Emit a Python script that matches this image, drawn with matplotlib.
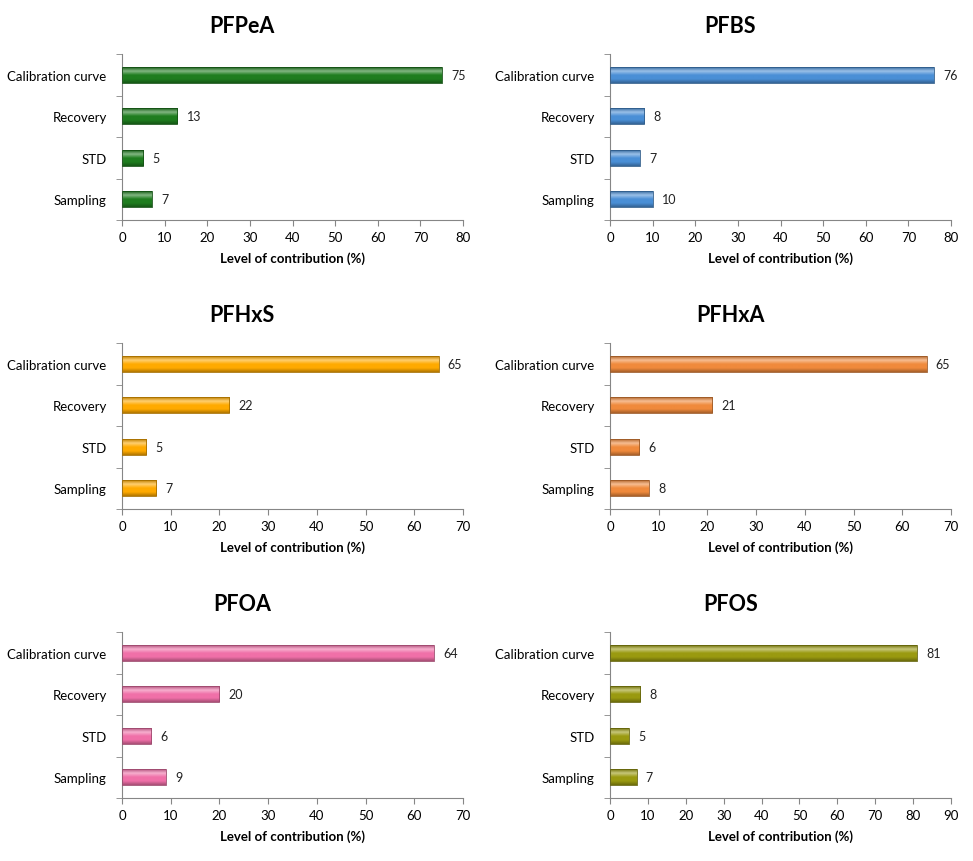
import numpy as np
import matplotlib.pyplot as plt
from matplotlib.colors import LinearSegmentedColormap, to_rgb

plt.rcParams['font.family'] = ['Lato', 'DejaVu Sans']

categories = ['Calibration curve', 'Recovery', 'STD', 'Sampling']
titles = ['PFPeA', 'PFBS', 'PFHxS', 'PFHxA', 'PFOA', 'PFOS']
values = [
    [75, 13, 5, 7],
    [76, 8, 7, 10],
    [65, 22, 5, 7],
    [65, 21, 6, 8],
    [64, 20, 6, 9],
    [81, 8, 5, 7],
]
xmax = [80, 80, 70, 70, 70, 90]
colors = ['#1f7d1f', '#4a8fd6', '#ffaa00', '#f08a3c', '#f070a8', '#9a9a10']

W, H = 973, 862
fig = plt.figure(figsize=(W / 100, H / 100), dpi=100)

lefts = [122, 610]
bottoms = [221, 510, 799]
aw, ah = 341, 166


def shade(c, f):
    r = np.array(to_rgb(c))
    if f >= 0:
        return tuple(r + (1 - r) * f)
    return tuple(r * (1 + f))


for i, (name, vals) in enumerate(zip(titles, values)):
    col, row = i % 2, i // 2
    ax = fig.add_axes([lefts[col] / W, 1 - bottoms[row] / H, aw / W, ah / H])
    y = np.arange(len(categories))
    c = colors[i]
    cmap = LinearSegmentedColormap.from_list(
        name, [shade(c, -0.25), shade(c, 0.45), c, c, shade(c, -0.3)])
    grad = np.linspace(0, 1, 64).reshape(-1, 1)
    bh = 0.38
    for yy, v in zip(y, vals):
        ax.imshow(grad, cmap=cmap, aspect='auto', extent=(0, v, yy + bh / 2, yy - bh / 2),
                  zorder=2, interpolation='bilinear')
        ax.add_patch(plt.Rectangle((0, yy - bh / 2), v, bh, fill=False,
                                   edgecolor=shade(c, -0.35), lw=0.6, zorder=3))
        ax.text(v + xmax[i] * 0.027, yy, str(v), va='center', ha='left', fontsize=9, color='#222222')

    ax.set_xlim(0, xmax[i])
    ax.set_ylim(len(categories) - 0.5, -0.5)
    ax.set_xticks(np.arange(0, xmax[i] + 1, 10))
    ax.set_yticks(y)
    ax.set_yticklabels(categories)
    ax.set_yticks(np.arange(-0.5, len(categories), 1), minor=True)
    ax.tick_params(axis='y', which='major', length=0, pad=11, labelsize=9.5)
    ax.tick_params(axis='y', which='minor', length=4, color='#868686', direction='out')
    ax.tick_params(axis='x', length=4, color='#868686', labelsize=9.5, pad=4)
    for s in ['top', 'right']:
        ax.spines[s].set_visible(False)
    for s in ['left', 'bottom']:
        ax.spines[s].set_color('#868686')
        ax.spines[s].set_linewidth(0.8)
    ax.set_xlabel('Level of contribution (%)', fontsize=9.5, fontweight='bold', labelpad=6)
    ax.set_title(name, fontsize=15.5, fontweight='bold', pad=16, x=0.353)

fig.savefig('out.png', dpi=100)
